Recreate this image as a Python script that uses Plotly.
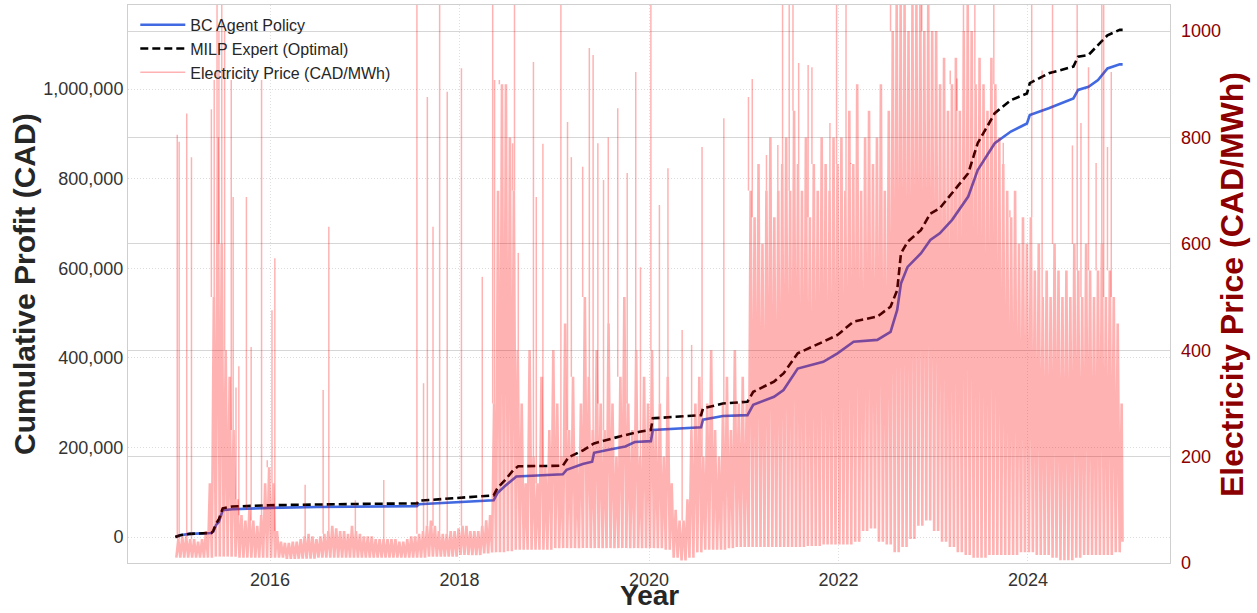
import plotly.graph_objects as go

# ---------------- cumulative profit (CAD) ----------------
bc_years = [2015.00, 2015.05, 2015.15, 2015.38, 2015.40, 2015.43, 2015.46, 2015.50, 2015.60, 2016.00,
            2016.50, 2017.00, 2017.55, 2017.57, 2018.00, 2018.36, 2018.40, 2018.48, 2018.60, 2019.09,
            2019.13, 2019.30, 2019.40, 2019.42, 2019.60, 2019.75, 2019.85, 2020.02, 2020.04, 2020.55,
            2020.57, 2020.78, 2021.04, 2021.10, 2021.32, 2021.42, 2021.57, 2021.84, 2021.99, 2022.16,
            2022.41, 2022.55, 2022.62, 2022.66, 2022.73, 2022.87, 2022.97, 2023.07, 2023.20, 2023.37,
            2023.47, 2023.65, 2023.82, 2023.99, 2024.02, 2024.22, 2024.48, 2024.53, 2024.64, 2024.74,
            2024.84, 2024.97, 2025.00]
bc_profit = [0, 4000, 7000, 9000, 12000, 27000, 34000, 60000, 62000, 65000,
             67000, 68000, 69000, 73000, 78000, 82000, 98000, 114000, 135000, 140000,
             150000, 163000, 168000, 188000, 196000, 202000, 212000, 214000, 239000, 245000,
             262000, 270000, 272000, 295000, 313000, 328000, 376000, 391000, 410000, 436000,
             440000, 458000, 507000, 566000, 603000, 633000, 663000, 678000, 708000, 760000,
             819000, 879000, 905000, 923000, 942000, 957000, 979000, 998000, 1005000, 1020000,
             1046000, 1055000, 1055000]

milp_years = [2015.00, 2015.05, 2015.15, 2015.38, 2015.40, 2015.43, 2015.46, 2015.50, 2015.60, 2016.00,
              2017.00, 2017.55, 2017.57, 2018.01, 2018.36, 2018.40, 2018.48, 2018.57, 2018.62, 2019.09,
              2019.15, 2019.30, 2019.42, 2019.70, 2019.90, 2020.02, 2020.04, 2020.55, 2020.57, 2020.78,
              2021.04, 2021.10, 2021.32, 2021.42, 2021.57, 2021.84, 2021.99, 2022.16, 2022.41, 2022.55,
              2022.62, 2022.66, 2022.73, 2022.87, 2022.97, 2023.07, 2023.20, 2023.37, 2023.47, 2023.65,
              2023.82, 2023.99, 2024.02, 2024.22, 2024.48, 2024.53, 2024.64, 2024.74, 2024.84, 2024.97,
              2025.00]
milp_profit = [0, 4000, 7000, 9000, 14000, 30000, 40000, 64000, 68000, 71000,
               74000, 75000, 81000, 88000, 93000, 109000, 127000, 150000, 158000, 159000,
               178000, 193000, 209000, 225000, 235000, 239000, 265000, 272000, 287000, 298000,
               302000, 324000, 347000, 365000, 410000, 436000, 451000, 481000, 492000, 514000,
               551000, 633000, 659000, 685000, 722000, 734000, 767000, 812000, 879000, 946000,
               975000, 990000, 1013000, 1035000, 1050000, 1072000, 1076000, 1098000, 1120000, 1132000,
               1132000]

# ---------------- electricity price (CAD/MWh) ----------------
# monthly lower envelope of the price band
price_lo = {
    2015: [10, 10, 10, 10, 10, 12, 12, 12, 10, 10, 10, 10],
    2016: [10, 10, 8, 8, 8, 8, 10, 10, 10, 10, 10, 10],
    2017: [10, 10, 10, 10, 10, 10, 10, 10, 12, 12, 12, 12],
    2018: [15, 15, 15, 18, 20, 20, 22, 25, 25, 25, 25, 25],
    2019: [28, 28, 28, 28, 28, 28, 28, 28, 28, 28, 28, 28],
    2020: [28, 28, 25, 10, 5, 10, 20, 25, 25, 25, 28, 30],
    2021: [30, 30, 30, 30, 30, 30, 30, 30, 32, 32, 35, 35],
    2022: [35, 35, 40, 60, 65, 40, 35, 20, 30, 45, 70, 80],
    2023: [60, 40, 30, 20, 15, 10, 10, 15, 15, 15, 15, 20],
    2024: [20, 15, 15, 10, 5, 5, 10, 15, 15, 15, 15, 20],
}
# half-month upper envelope of the dense price band
price_hi = {
    2015: [45, 50, 50, 45, 45, 40, 45, 60, 150, 500, 800, 600, 400, 350, 250, 120, 90, 80, 100, 80, 70, 90, 150, 180],
    2016: [150, 60, 40, 38, 38, 40, 40, 45, 50, 55, 50, 45, 50, 55, 60, 70, 65, 60, 60, 55, 70, 60, 55, 50],
    2017: [50, 50, 45, 45, 45, 45, 45, 45, 40, 40, 45, 50, 50, 55, 60, 70, 80, 70, 60, 55, 55, 60, 60, 65],
    2018: [70, 70, 60, 60, 60, 70, 80, 90, 300, 700, 900, 900, 800, 700, 400, 300, 150, 400, 200, 150, 350, 180, 250, 400],
    2019: [300, 200, 450, 250, 350, 200, 300, 500, 350, 250, 400, 300, 250, 450, 300, 200, 350, 500, 300, 250, 400, 200, 350, 300],
    2020: [400, 250, 300, 200, 350, 150, 100, 80, 80, 120, 250, 300, 350, 200, 300, 400, 250, 200, 300, 350, 250, 400, 300, 350],
    2021: [300, 700, 650, 750, 600, 700, 800, 650, 700, 750, 800, 700, 850, 750, 700, 800, 650, 750, 700, 800, 750, 700, 800, 750],
    2022: [800, 700, 850, 750, 900, 700, 800, 850, 750, 800, 900, 700, 850, 1000, 1050, 1050, 1050, 1000, 1050, 1050, 1050, 1000, 1050, 1000],
    2023: [1000, 900, 950, 850, 900, 950, 850, 1000, 1050, 1000, 900, 950, 900, 850, 950, 900, 800, 750, 700, 650, 700, 600, 650, 600],
    2024: [650, 550, 600, 500, 550, 500, 600, 550, 500, 550, 500, 600, 550, 500, 600, 550, 500, 550, 600, 500, 550, 500, 450, 300],
}
# isolated price spikes
spike_years = [2015.02, 2015.04, 2015.12, 2015.17, 2015.38, 2015.41, 2015.44, 2015.46, 2015.49, 2015.52,
               2015.59, 2015.61, 2015.64, 2015.67, 2015.75, 2015.80, 2015.91, 2015.97,
               2016.02, 2016.05, 2016.37, 2016.56, 2016.62, 2016.90,
               2017.20, 2017.55, 2017.62, 2017.66, 2017.72, 2017.79, 2017.87,
               2018.02, 2018.24, 2018.35, 2018.37, 2018.42, 2018.45, 2018.56, 2018.58, 2018.62, 2018.78, 2018.81, 2018.88,
               2019.07, 2019.14, 2019.18, 2019.30, 2019.37, 2019.41, 2019.46, 2019.52, 2019.57, 2019.67, 2019.77, 2019.86, 2019.91,
               2020.02, 2020.11, 2020.20, 2020.35, 2020.45, 2020.56, 2020.79,
               2021.05, 2021.09, 2021.24, 2021.36, 2021.41, 2021.48, 2021.52, 2021.58, 2021.68, 2021.72, 2021.91, 2021.98,
               2022.08, 2022.13, 2022.33, 2022.55, 2022.60, 2022.64, 2022.70, 2022.76, 2022.82, 2022.88, 2022.93,
               2023.03, 2023.18, 2023.25, 2023.32, 2023.37, 2023.44, 2023.64, 2023.74, 2023.81, 2023.92,
               2024.04, 2024.15, 2024.26, 2024.47, 2024.52, 2024.56, 2024.64, 2024.72, 2024.78, 2024.80, 2024.84, 2024.88, 2024.93]
spike_prices = [805, 792, 845, 763, 853, 908, 1050, 1000, 1050, 1000,
                908, 688, 330, 370, 688, 406, 908, 193,
                475, 573, 147, 325, 632, 118,
                156, 1050, 338, 876, 632, 1050, 886,
                930, 538, 1050, 908, 908, 600, 789, 1050, 583, 942, 688, 788,
                1050, 829, 763, 745, 968, 955, 789, 720, 800, 855, 733, 923, 556,
                1050, 673, 742, 438, 410, 782, 836,
                876, 910, 767, 786, 1050, 1050, 1050, 940, 936, 932, 827, 1050,
                1050, 752, 739, 1050, 1050, 1050, 1050, 1050, 1050, 1050, 1050,
                908, 926, 911, 1050, 1050, 1050, 1050, 790, 663, 639,
                1050, 926, 1050, 785, 1050, 827, 932, 752, 1050, 1050, 782, 923, 370]
price_end = 40

# dense band: lower/upper envelope strokes per half-month
band_x, band_y = [], []
for year in range(2015, 2025):
    lo_m = price_lo[year]
    hi_h = price_hi[year]
    for b in range(24):
        t0 = year + b / 24.0
        band_x += [t0 + 0.25 / 24.0, t0 + 0.75 / 24.0]
        band_y += [lo_m[b // 2], hi_h[b]]
band_x.append(2024.999)
band_y.append(price_end)

# isolated spikes rising from the band top
spike_x, spike_y = [], []
for t, p in zip(spike_years, spike_prices):
    yr = int(t)
    base = price_hi[yr][min(23, int((t - yr) * 24))]
    spike_x += [t, t, None]
    spike_y += [min(base, p), p, None]

FONT = "Liberation Sans, Arial, Helvetica, sans-serif"
DARKRED = "#8B0000"
PINK = "rgba(255,0,0,0.3)"

fig = go.Figure()
fig.add_trace(go.Scatter(x=bc_years, y=bc_profit, mode="lines", name="BC Agent Policy",
                         line=dict(color="#4169E1", width=2.6), yaxis="y"))
fig.add_trace(go.Scatter(x=milp_years, y=milp_profit, mode="lines", name="MILP Expert (Optimal)",
                         line=dict(color="black", width=2.6, dash="8px,4px"), yaxis="y"))
fig.add_trace(go.Scatter(x=spike_x, y=spike_y, mode="lines", name="Electricity Price (CAD/MWh)",
                         legendgroup="price", line=dict(color=PINK, width=1.5), yaxis="y2"))
fig.add_trace(go.Scatter(x=band_x, y=band_y, mode="lines", name="Electricity Price (CAD/MWh)",
                         legendgroup="price", showlegend=False,
                         line=dict(color=PINK, width=2.6), yaxis="y2"))

fig.update_layout(
    width=1257, height=613,
    margin=dict(l=128, r=87, t=5, b=50),
    paper_bgcolor="white", plot_bgcolor="white",
    font=dict(family=FONT, color="#333333"),
    showlegend=True,
    legend=dict(x=0.007, y=0.995, xanchor="left", yanchor="top",
                bgcolor="rgba(0,0,0,0)", borderwidth=0, itemwidth=45,
                font=dict(size=16, color="#262626", family=FONT),
                tracegroupgap=0),
    xaxis=dict(range=[2014.5, 2025.5], tickvals=[2016, 2018, 2020, 2022, 2024],
               ticktext=["2016", "2018", "2020", "2022", "2024"],
               showgrid=True, gridcolor="#e0e0e0", griddash="1px,2px", gridwidth=1,
               zeroline=False, showline=True, mirror=True, linecolor="#cfcfcf", linewidth=1,
               ticks="", tickfont=dict(size=18, color="#333333", family=FONT)),
    yaxis=dict(range=[-58000, 1187500], tickvals=[0, 200000, 400000, 600000, 800000, 1000000],
               tickformat=",d", showgrid=True, gridcolor="#dcdcdc", griddash="1px,2px", gridwidth=1,
               zeroline=False, showline=True, mirror=True, linecolor="#cfcfcf", linewidth=1,
               ticks="", tickfont=dict(size=18, color="#333333", family=FONT)),
    yaxis2=dict(range=[0, 1049], overlaying="y", side="right",
                tickvals=[0, 200, 400, 600, 800, 1000], ticklabelstandoff=10,
                showgrid=True, gridcolor="#d6d6d6", gridwidth=1, zeroline=False,
                showline=False, ticks="", tickfont=dict(size=18, color=DARKRED, family=FONT)),
    annotations=[
        dict(text="<b>Cumulative Profit (CAD)</b>", xref="paper", yref="paper",
             x=-0.0998, y=0.5, xanchor="center", yanchor="middle", textangle=-90,
             showarrow=False, font=dict(size=30, color="#262626", family=FONT)),
        dict(text="<b>Electricity Price (CAD/MWh)</b>", xref="paper", yref="paper",
             x=1.0595, y=0.5, xanchor="center", yanchor="middle", textangle=-90,
             showarrow=False, font=dict(size=32, color=DARKRED, family=FONT)),
        dict(text="<b>Year</b>", xref="paper", yref="paper",
             x=0.5, y=-0.0896, xanchor="center", yanchor="bottom",
             showarrow=False, font=dict(size=28, color="#262626", family=FONT)),
    ],
)

fig.write_html("out.html")
